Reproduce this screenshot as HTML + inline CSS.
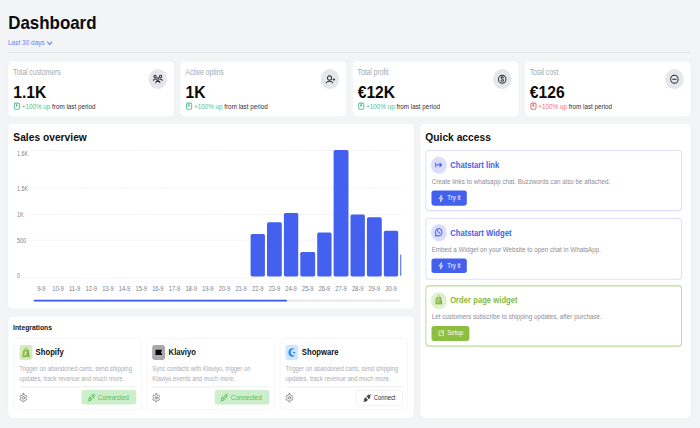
<!DOCTYPE html>
<html><head><meta charset="utf-8">
<style>
*{margin:0;padding:0;box-sizing:border-box}
html,body{width:700px;height:428px;overflow:hidden;background:#f3f4f6}
body{font-family:"Liberation Sans",Arial,sans-serif;color:#111}
#app{position:absolute;left:0;top:0;width:1366px;height:768px;transform:scale(0.51245,0.55729);transform-origin:0 0;background:#f3f4f6}
.a{position:absolute}
.t{position:absolute;white-space:nowrap;line-height:1}
.card{position:absolute;background:#fff;border-radius:8.5px;box-shadow:0 0 0 1px #eceef2}
.lbl{font-size:13.8px;letter-spacing:-0.25px;color:#a9abb1;transform:scaleY(1.14);transform-origin:0 11.7px}
.val{font-size:30.5px;font-weight:700;color:#0a0a0a}
.trend{font-size:12.3px;color:#303036}
.up{color:#4fbe8c}
.dn{color:#ef6b6b}
.ic{position:absolute;width:36px;height:36px;border-radius:50%;background:#e5e7eb}
.ic svg{position:absolute;left:0;top:0;width:36px;height:36px}
.tri{position:absolute;width:12px;height:12.5px;border-radius:3px;border:2.4px solid;background:#fff}
.tri:after{content:"";position:absolute;left:2.2px;top:1.2px;width:3.2px;height:3.8px;background:currentColor;border-radius:1px;opacity:.8}
.yl{font-size:10.3px;color:#80808a;transform:scaleY(1.15);transform-origin:0 8.7px}
.xl{font-size:11.4px;letter-spacing:-0.15px;color:#80808a;width:32px;text-align:center;transform:scaleY(1.1);transform-origin:0 9.7px}
.gl{position:absolute;height:0;border-top:2px dotted #ededf1}
.bar{position:absolute;width:28.5px;background:#4361ee;border-radius:3px}
.ib{position:absolute;border:1.5px solid #eceef1;border-radius:8px;background:#fff;top:607px;height:128px;width:250px}
.ib .sq{position:absolute;left:10px;top:10.7px;width:25.2px;height:27px;border-radius:5px}
.ib .nm{font-size:15px;font-weight:700;color:#111;left:42px;top:16.4px}
.ib .ds{font-size:11.6px;color:#abadb3;left:10px;top:46.2px;line-height:16.9px}
.ib .hr{position:absolute;left:10px;right:10px;top:85px;border-top:2.2px solid #eeeff2}
.ib .gear{position:absolute;left:9.3px;top:97.2px;width:17.5px;height:17.5px}
.btn-c{position:absolute;top:91.8px;height:26.5px;border-radius:5px;font-size:12.5px}
.qa{position:absolute;left:830px;width:501px;border:2px solid #dbe0fb;border-radius:7px;background:#fff}
.qa .ci{position:absolute;left:9.2px;top:9.5px;width:31px;height:31px;border-radius:50%;background:#dadefc}
.qa .nm{font-size:15px;font-weight:700;color:#4361ee;left:46.4px;top:18.2px}
.qa .ds{font-size:12.3px;color:#8d8d93;left:10.3px;top:50px}
.qa .bt{position:absolute;left:9.8px;top:71.2px;width:69.3px;height:26.5px;border-radius:5px;background:#4361ee;color:#fff;font-size:11.8px}
</style></head><body>
<div id="app">
  <div class="t" id="title" style="left:16px;top:24.3px;font-size:33px;font-weight:700;color:#0a0a0a">Dashboard</div>
  <div class="t" id="range" style="left:15.5px;top:69.8px;font-size:12.7px;color:#6c7ff0">Last 30 days</div>
  <svg class="a" style="left:91px;top:73px" width="12" height="9" viewBox="0 0 12 9"><path d="M1.2 1.5 L6 7.2 L10.8 1.5" fill="none" stroke="#6c7ff0" stroke-width="2"/></svg>
  <div class="a" style="left:16px;top:93px;width:1332px;height:2px;background:#e5e5e7"></div>

  <!-- stat cards -->
  <div class="card" style="left:16px;top:110px;width:324px;height:98.6px">
    <div class="t lbl" style="left:9.6px;top:12.7px">Total customers</div>
    <div class="t val" style="left:10px;top:39.6px">1.1K</div>
    <div class="tri" style="left:10.5px;top:74px;border-color:#5cc79a;color:#2f8f62"></div>
    <div class="t trend" style="left:26.5px;top:75.5px"><span class="up">+100% up</span> from last period</div>
    <div class="ic" style="left:274px;top:14px"><svg viewBox="0 0 36 36" fill="none" stroke="#2b2b31" stroke-width="1.9" stroke-linecap="round" stroke-linejoin="round"><circle cx="12.6" cy="13.4" r="2.3"/><circle cx="23.4" cy="13.4" r="2.3"/><circle cx="18" cy="18" r="2.3"/><path d="M14 24.6v-.4a2.2 2.2 0 0 1 2.2-2.2h3.6a2.2 2.2 0 0 1 2.2 2.2v.4M9.6 20.6v-.4a2 2 0 0 1 2-2h1.6M26.4 20.6v-.4a2 2 0 0 0-2-2h-1.6"/></svg></div>
  </div>
  <div class="card" style="left:352px;top:110px;width:324px;height:98.6px">
    <div class="t lbl" style="left:9.6px;top:12.7px">Active optins</div>
    <div class="t val" style="left:10px;top:39.6px">1K</div>
    <div class="tri" style="left:10.5px;top:74px;border-color:#5cc79a;color:#2f8f62"></div>
    <div class="t trend" style="left:26.5px;top:75.5px"><span class="up">+100% up</span> from last period</div>
    <div class="ic" style="left:274px;top:14px"><svg viewBox="0 0 36 36" fill="none" stroke="#2b2b31" stroke-width="1.9" stroke-linecap="round" stroke-linejoin="round"><circle cx="17" cy="16" r="4"/><path d="M10.6 24.8a6.6 4.2 0 0 1 12.8 0"/><path d="M24.2 18.8h2.8M25.6 17.4v2.8"/></svg></div>
  </div>
  <div class="card" style="left:688px;top:110px;width:324px;height:98.6px">
    <div class="t lbl" style="left:9.6px;top:12.7px">Total profit</div>
    <div class="t val" style="left:10px;top:39.6px">€12K</div>
    <div class="tri" style="left:10.5px;top:74px;border-color:#5cc79a;color:#2f8f62"></div>
    <div class="t trend" style="left:26.5px;top:75.5px"><span class="up">+100% up</span> from last period</div>
    <div class="ic" style="left:274px;top:14px"><svg viewBox="0 0 36 36" fill="none" stroke="#2b2b31" stroke-width="1.9" stroke-linecap="round" stroke-linejoin="round"><circle cx="18" cy="18.2" r="7.3"/><path d="M20.4 15.1c-.5-.8-1.3-1.2-2.3-1.2-1.4 0-2.4.8-2.4 1.9 0 2.6 4.8 1.4 4.8 4.1 0 1.1-1 1.9-2.5 1.9-1 0-1.9-.5-2.4-1.3"/></svg></div>
  </div>
  <div class="card" style="left:1024px;top:110px;width:324px;height:98.6px">
    <div class="t lbl" style="left:9.6px;top:12.7px">Total cost</div>
    <div class="t val" style="left:10px;top:39.6px">€126</div>
    <div class="tri" style="left:10.5px;top:74px;border-color:#ef7474;color:#a5482f"></div>
    <div class="t trend" style="left:26.5px;top:75.5px"><span class="dn">+100% up</span> from last period</div>
    <div class="ic" style="left:274px;top:14px"><svg viewBox="0 0 36 36" fill="none" stroke="#2b2b31" stroke-width="1.9" stroke-linecap="round"><circle cx="18" cy="18.2" r="7.3"/><path d="M14.6 18.2h6.8"/></svg></div>
  </div>

  <!-- sales overview -->
  <div class="card" id="sales" style="left:16px;top:222px;width:792px;height:332px"></div>
  <div class="t" id="stitle" style="left:26px;top:235.8px;font-size:20px;font-weight:700;color:#0f0f0f">Sales overview</div>
  <div class="gl" style="left:59.9px;top:269.0px;width:722.6px"></div>
<div class="t yl" style="left:33.3px;top:272.4px">1.6K</div>
<div class="gl" style="left:59.9px;top:336.4px;width:722.6px"></div>
<div class="t yl" style="left:33.3px;top:334.5px">1.5K</div>
<div class="gl" style="left:50.9px;top:383.6px;width:731.6px"></div>
<div class="t yl" style="left:33.3px;top:380.5px">1K</div>
<div class="gl" style="left:56.6px;top:430.3px;width:725.9px"></div>
<div class="t yl" style="left:33.3px;top:428.2px">500</div>
<div class="gl" style="left:44.7px;top:497.6px;width:737.8px"></div>
<div class="t yl" style="left:33.3px;top:491.0px">0</div>
<div class="a" style="left:0;top:0;width:782.5px;height:768px;overflow:hidden">
<div class="bar" style="left:488.72px;top:419.9px;height:76.1px"></div>
<div class="bar" style="left:521.21px;top:399.4px;height:96.6px"></div>
<div class="bar" style="left:553.70px;top:382.4px;height:113.6px"></div>
<div class="bar" style="left:586.19px;top:452.4px;height:43.6px"></div>
<div class="bar" style="left:618.68px;top:416.5px;height:79.5px"></div>
<div class="bar" style="left:651.17px;top:269.2px;height:226.8px"></div>
<div class="bar" style="left:683.66px;top:384.5px;height:111.5px"></div>
<div class="bar" style="left:716.15px;top:390.1px;height:105.9px"></div>
<div class="bar" style="left:748.64px;top:414.0px;height:82.0px"></div>
<div class="bar" style="left:781.13px;top:455.8px;height:40.2px"></div>
<div class="t xl" style="left:64.60px;top:512.5px">9-9</div>
<div class="t xl" style="left:97.09px;top:512.5px">10-9</div>
<div class="t xl" style="left:129.58px;top:512.5px">11-9</div>
<div class="t xl" style="left:162.07px;top:512.5px">12-9</div>
<div class="t xl" style="left:194.56px;top:512.5px">13-9</div>
<div class="t xl" style="left:227.05px;top:512.5px">14-9</div>
<div class="t xl" style="left:259.54px;top:512.5px">15-9</div>
<div class="t xl" style="left:292.03px;top:512.5px">16-9</div>
<div class="t xl" style="left:324.52px;top:512.5px">17-9</div>
<div class="t xl" style="left:357.01px;top:512.5px">18-9</div>
<div class="t xl" style="left:389.50px;top:512.5px">19-9</div>
<div class="t xl" style="left:421.99px;top:512.5px">20-9</div>
<div class="t xl" style="left:454.48px;top:512.5px">21-9</div>
<div class="t xl" style="left:486.97px;top:512.5px">22-9</div>
<div class="t xl" style="left:519.46px;top:512.5px">23-9</div>
<div class="t xl" style="left:551.95px;top:512.5px">24-9</div>
<div class="t xl" style="left:584.44px;top:512.5px">25-9</div>
<div class="t xl" style="left:616.93px;top:512.5px">26-9</div>
<div class="t xl" style="left:649.42px;top:512.5px">27-9</div>
<div class="t xl" style="left:681.91px;top:512.5px">28-9</div>
<div class="t xl" style="left:714.40px;top:512.5px">29-9</div>
<div class="t xl" style="left:746.89px;top:512.5px">30-9</div>
</div>
<div class="a" style="left:66.2px;top:537.8px;width:714.8px;height:3.2px;border-radius:2px;background:#e6e6e9"></div>
<div class="a" style="left:66.2px;top:537.8px;width:493.7px;height:3.2px;border-radius:2px;background:#3d5bea"></div>

  <!-- integrations -->
  <div class="card" style="left:16px;top:568px;width:792px;height:182px"></div>
  <div class="t" style="left:25.5px;top:581.2px;font-size:13.3px;font-weight:700;color:#141414">Integrations</div>
  
  <div class="ib" style="left:26.5px">
    <div class="sq" style="background:#d6ebbd"><svg class="a" style="left:4.5px;top:4px" width="17" height="19" viewBox="0 0 16 18"><path d="M5.3 5.2C5.3 2.6 6.7 1 8 1c1.3 0 2 1.4 2.2 3.4" stroke="#86bb45" stroke-width="1.2" fill="none"/><path d="M2.6 5.4L10.6 3.9 13.6 17.2 1.2 17.6Z" fill="#8cc04a"/><path d="M10.6 3.9L12.6 4.2 15 16.7 13.6 17.2Z" fill="#5a8a2a"/><path d="M9 8.1c-.6-.5-1.6-.6-2.2-.1-.8.7.2 1.5.9 2 .9.7.8 2-.3 2.5-.7.3-1.6.1-2.1-.3" stroke="#fff" stroke-width="1.5" fill="none" stroke-linecap="round"/></svg></div>
    <div class="t nm">Shopify</div>
    <div class="a ds">Trigger on abandoned carts, send shipping<br>updates, track revenue and much more.</div>
    <div class="hr"></div>
    <svg class="gear" viewBox="0 0 24 24" fill="none" stroke="#707076" stroke-width="2" stroke-linecap="round" stroke-linejoin="round"><path d="M12.22 2h-.44a2 2 0 0 0-2 2v.18a2 2 0 0 1-1 1.73l-.43.25a2 2 0 0 1-2 0l-.15-.08a2 2 0 0 0-2.73.73l-.22.38a2 2 0 0 0 .73 2.73l.15.1a2 2 0 0 1 1 1.72v.51a2 2 0 0 1-1 1.74l-.15.09a2 2 0 0 0-.73 2.73l.22.38a2 2 0 0 0 2.73.73l.15-.08a2 2 0 0 1 2 0l.43.25a2 2 0 0 1 1 1.73V20a2 2 0 0 0 2 2h.44a2 2 0 0 0 2-2v-.18a2 2 0 0 1 1-1.73l.43-.25a2 2 0 0 1 2 0l.15.08a2 2 0 0 0 2.73-.73l.22-.39a2 2 0 0 0-.73-2.73l-.15-.08a2 2 0 0 1-1-1.74v-.5a2 2 0 0 1 1-1.74l.15-.09a2 2 0 0 0 .73-2.73l-.22-.38a2 2 0 0 0-2.73-.73l-.15.08a2 2 0 0 1-2 0l-.43-.25a2 2 0 0 1-1-1.73V4a2 2 0 0 0-2-2z"/><circle cx="12" cy="12" r="3"/></svg>
    <div class="btn-c" style="left:131.8px;width:107px;background:#cdeecb;color:#54bf55"><svg class="a" style="left:10.5px;top:4.8px" width="17" height="17" viewBox="0 0 24 24" fill="none" stroke="#46b947" stroke-width="2.2" stroke-linecap="round" stroke-linejoin="round"><path d="M7 12l5 5-1.5 1.5a3.536 3.536 0 1 1-5-5L7 12z"/><path d="M17 12l-5-5 1.5-1.5a3.536 3.536 0 1 1 5 5L17 12z"/><path d="M3 21l2.5-2.5M18.5 5.5L21 3M10 11l-2 2M13 14l-2 2"/></svg><span class="t" style="left:31.5px;top:7.5px">Connected</span></div>
  </div>
  <div class="ib" style="left:286px">
    <div class="sq" style="background:#a9a9ae"><svg class="a" style="left:6px;top:8px" width="14" height="10" viewBox="0 0 14 10"><path d="M0 0H14L11 5L14 10H0Z" fill="#0a0a0a"/></svg></div>
    <div class="t nm">Klaviyo</div>
    <div class="a ds">Sync contacts with Klaviyo, trigger on<br>Klaviyo events and much more.</div>
    <div class="hr"></div>
    <svg class="gear" viewBox="0 0 24 24" fill="none" stroke="#707076" stroke-width="2" stroke-linecap="round" stroke-linejoin="round"><path d="M12.22 2h-.44a2 2 0 0 0-2 2v.18a2 2 0 0 1-1 1.73l-.43.25a2 2 0 0 1-2 0l-.15-.08a2 2 0 0 0-2.73.73l-.22.38a2 2 0 0 0 .73 2.73l.15.1a2 2 0 0 1 1 1.72v.51a2 2 0 0 1-1 1.74l-.15.09a2 2 0 0 0-.73 2.73l.22.38a2 2 0 0 0 2.73.73l.15-.08a2 2 0 0 1 2 0l.43.25a2 2 0 0 1 1 1.73V20a2 2 0 0 0 2 2h.44a2 2 0 0 0 2-2v-.18a2 2 0 0 1 1-1.73l.43-.25a2 2 0 0 1 2 0l.15.08a2 2 0 0 0 2.73-.73l.22-.39a2 2 0 0 0-.73-2.73l-.15-.08a2 2 0 0 1-1-1.74v-.5a2 2 0 0 1 1-1.74l.15-.09a2 2 0 0 0 .73-2.73l-.22-.38a2 2 0 0 0-2.73-.73l-.15.08a2 2 0 0 1-2 0l-.43-.25a2 2 0 0 1-1-1.73V4a2 2 0 0 0-2-2z"/><circle cx="12" cy="12" r="3"/></svg>
    <div class="btn-c" style="left:131.8px;width:107px;background:#cdeecb;color:#54bf55"><svg class="a" style="left:10.5px;top:4.8px" width="17" height="17" viewBox="0 0 24 24" fill="none" stroke="#46b947" stroke-width="2.2" stroke-linecap="round" stroke-linejoin="round"><path d="M7 12l5 5-1.5 1.5a3.536 3.536 0 1 1-5-5L7 12z"/><path d="M17 12l-5-5 1.5-1.5a3.536 3.536 0 1 1 5 5L17 12z"/><path d="M3 21l2.5-2.5M18.5 5.5L21 3M10 11l-2 2M13 14l-2 2"/></svg><span class="t" style="left:31.5px;top:7.5px">Connected</span></div>
  </div>
  <div class="ib" style="left:546px">
    <div class="sq" style="background:#cfe6fd"><svg class="a" style="left:3.6px;top:4.2px" width="19" height="19" viewBox="0 0 18 18"><path d="M13.5 3.2C12.2 2.3 10.6 1.8 9 1.8 5 1.8 1.8 5 1.8 9s3.2 7.2 7.2 7.2c2.2 0 4.1-.9 5.4-2.4-1.5.5-3.1.5-4.5 0-2.6-.9-4.2-3.2-4-5.7.3-2.9 3.3-4.8 7.6-4.9Z" fill="#1a8bf5"/><path d="M10 7.8c1.7-.3 3.6.4 5 1.8-1 1-2.6 1.3-3.9.8-.8-.4-1.2-1.4-1.1-2.6Z" fill="#1a8bf5"/></svg></div>
    <div class="t nm">Shopware</div>
    <div class="a ds">Trigger on abandoned carts, send shipping<br>updates, track revenue and much more.</div>
    <div class="hr"></div>
    <svg class="gear" viewBox="0 0 24 24" fill="none" stroke="#707076" stroke-width="2" stroke-linecap="round" stroke-linejoin="round"><path d="M12.22 2h-.44a2 2 0 0 0-2 2v.18a2 2 0 0 1-1 1.73l-.43.25a2 2 0 0 1-2 0l-.15-.08a2 2 0 0 0-2.73.73l-.22.38a2 2 0 0 0 .73 2.73l.15.1a2 2 0 0 1 1 1.72v.51a2 2 0 0 1-1 1.74l-.15.09a2 2 0 0 0-.73 2.73l.22.38a2 2 0 0 0 2.73.73l.15-.08a2 2 0 0 1 2 0l.43.25a2 2 0 0 1 1 1.73V20a2 2 0 0 0 2 2h.44a2 2 0 0 0 2-2v-.18a2 2 0 0 1 1-1.73l.43-.25a2 2 0 0 1 2 0l.15.08a2 2 0 0 0 2.73-.73l.22-.39a2 2 0 0 0-.73-2.73l-.15-.08a2 2 0 0 1-1-1.74v-.5a2 2 0 0 1 1-1.74l.15-.09a2 2 0 0 0 .73-2.73l-.22-.38a2 2 0 0 0-2.73-.73l-.15.08a2 2 0 0 1-2 0l-.43-.25a2 2 0 0 1-1-1.73V4a2 2 0 0 0-2-2z"/><circle cx="12" cy="12" r="3"/></svg>
    <div class="btn-c" style="left:147.8px;width:91px;height:28px;margin-top:0.2px;background:#fff;border:1.6px solid #e3e4e7;color:#1f1f23"><svg class="a" style="left:12px;top:4.6px" width="17" height="17" viewBox="0 0 24 24" fill="none" stroke="#2a2a2e" stroke-width="2.4" stroke-linecap="round" stroke-linejoin="round"><path d="M7 12l5 5-1.5 1.5a3.536 3.536 0 1 1-5-5L7 12z" fill="#55555a"/><path d="M17 12l-5-5 1.5-1.5a3.536 3.536 0 1 1 5 5L17 12z" fill="#55555a"/><path d="M3 21l2.5-2.5M18.5 5.5L21 3M10 11l-2 2M13 14l-2 2"/></svg><span class="t" style="left:33.5px;top:7.6px;font-size:11.4px;color:#2a2a30">Connect</span></div>
  </div>


  <!-- quick access -->
  <div class="card" style="left:820px;top:222px;width:528px;height:528px"></div>
  <div class="t" style="left:830px;top:236.2px;font-size:20px;font-weight:700;color:#0f0f0f">Quick access</div>
  
  <div class="qa" style="top:269.2px;height:109.6px">
    <div class="ci"><svg class="a" style="left:7px;top:8px" width="16" height="14" viewBox="0 0 16 14" fill="none" stroke="#4361ee" stroke-width="2" stroke-linecap="round" stroke-linejoin="round"><path d="M2.3 3.6v6.6M5 6.9h8.6M10.4 3.8L13.6 6.9l-3.2 3.1"/></svg></div>
    <div class="t nm">Chatstart link</div>
    <div class="t ds">Create links to whatsapp chat. Buzzwords can also be attached.</div>
    <div class="bt"><svg class="a" style="left:13px;top:6.5px" width="11" height="14" viewBox="0 0 11 14" fill="none" stroke="#fff" stroke-width="1.4" stroke-linejoin="round"><path d="M6.5 1L2 7.5h3.5L4.5 13 9 6.5H5.5z"/></svg><span class="t" style="left:31px;top:7.9px">Try it</span></div>
  </div>
  <div class="qa" style="top:390.5px;height:111px">
    <div class="ci"><svg class="a" style="left:6px;top:6px" width="18" height="18" viewBox="0 0 18 18" fill="none" stroke="#4361ee" stroke-width="1.8" stroke-linecap="round" stroke-linejoin="round"><path d="M2.5 15.5l1.2-3.3A6.5 6.5 0 1 1 6.2 14.5z"/><path d="M6.8 6.5c0 2.5 2.2 4.7 4.7 4.7l.8-1.3-1.6-.8-.8.7c-.9-.4-1.7-1.2-2.1-2.1l.7-.8-.8-1.6z" stroke-width="1.2"/></svg></div>
    <div class="t nm" style="top:17.5px">Chatstart Widget</div>
    <div class="t ds">Embed a Widget on your Website to open chat in WhatsApp.</div>
    <div class="bt"><svg class="a" style="left:13px;top:6.5px" width="11" height="14" viewBox="0 0 11 14" fill="none" stroke="#fff" stroke-width="1.4" stroke-linejoin="round"><path d="M6.5 1L2 7.5h3.5L4.5 13 9 6.5H5.5z"/></svg><span class="t" style="left:31px;top:7.9px">Try it</span></div>
  </div>
  <div class="qa" style="top:512px;height:109.6px;border-color:#bddc97">
    <div class="ci" style="background:#e1efd1"><svg class="a" style="left:6.5px;top:5px" width="16" height="18" viewBox="0 0 16 18"><path d="M5.3 5.2C5.3 2.6 6.7 1 8 1c1.3 0 2 1.4 2.2 3.4" stroke="#86bb45" stroke-width="1.2" fill="none"/><path d="M2.6 5.4L10.6 3.9 13.6 17.2 1.2 17.6Z" fill="#8cc04a"/><path d="M10.6 3.9L12.6 4.2 15 16.7 13.6 17.2Z" fill="#6a9c34"/><path d="M9 8.1c-.6-.5-1.6-.6-2.2-.1-.8.7.2 1.5.9 2 .9.7.8 2-.3 2.5-.7.3-1.6.1-2.1-.3" stroke="#eef7e4" stroke-width="1.5" fill="none" stroke-linecap="round"/></svg></div>
    <div class="t nm" style="color:#86ba40;top:16.7px">Order page widget</div>
    <div class="t ds" style="top:49.2px">Let customers subscribe to shipping updates, after purchase.</div>
    <div class="bt" style="background:#8dbe42;width:74px"><svg class="a" style="left:13px;top:7px" width="12" height="12" viewBox="0 0 12 12" fill="none" stroke="#fff" stroke-width="1.4" stroke-linecap="round" stroke-linejoin="round"><path d="M6 2H2.5A1 1 0 0 0 1.5 3v6.5a1 1 0 0 0 1 1H9a1 1 0 0 0 1-1V6"/><path d="M6 6l4.5-4.5M7.5 1.5h3v3"/></svg><span class="t" style="left:31px;top:7.9px">Setup</span></div>
  </div>

</div>
</body></html>
